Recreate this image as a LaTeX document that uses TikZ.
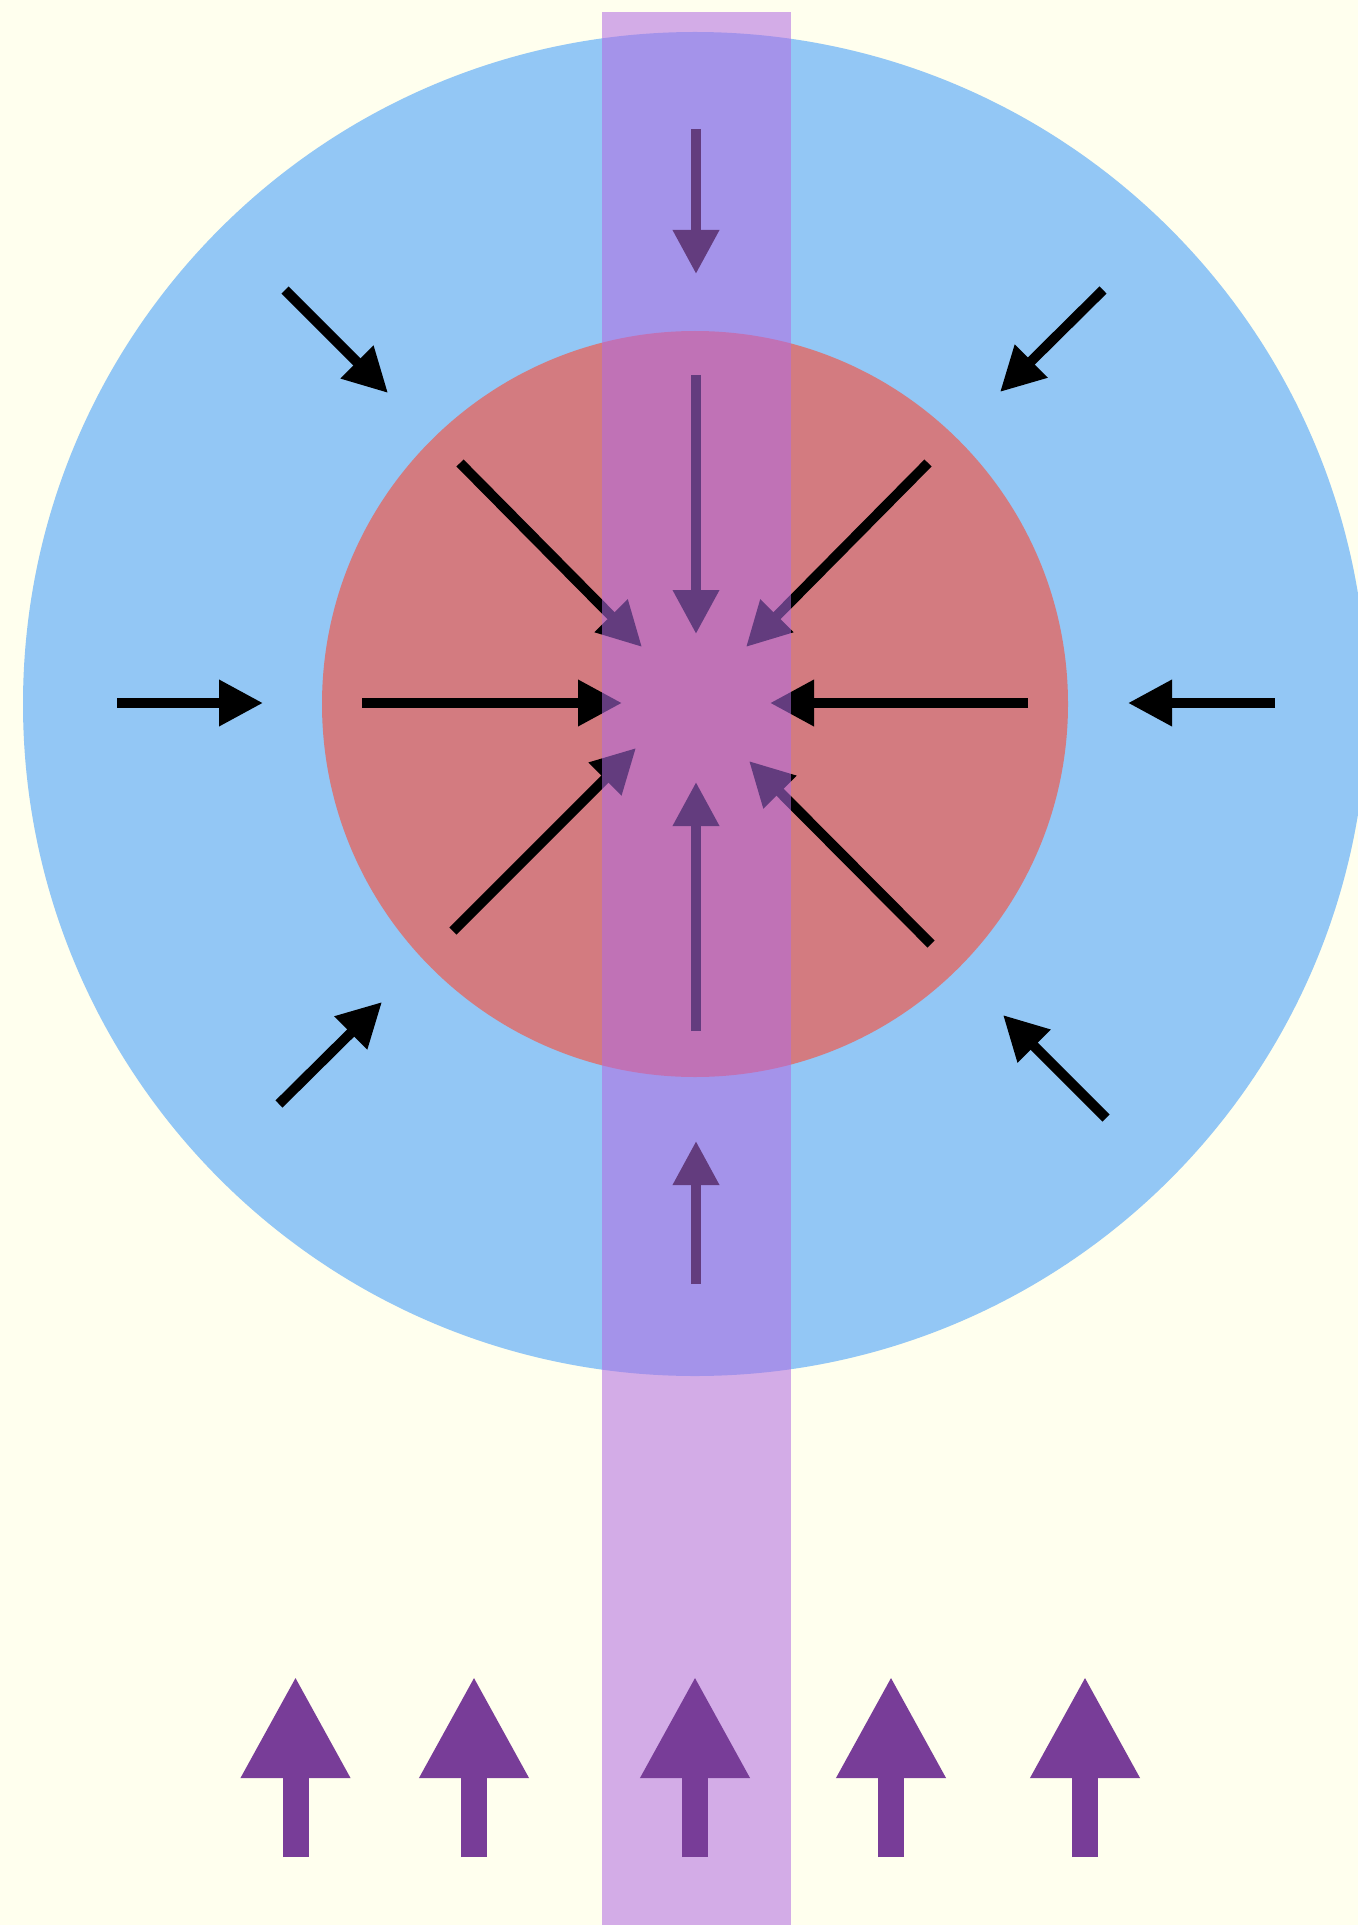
\documentclass[tikz,border=0pt]{standalone}
\usepackage{tikz}
\usetikzlibrary{arrows.meta}
\definecolor{bgcream}{RGB}{255,255,238}
\definecolor{ringblue}{RGB}{147,199,245}
\definecolor{corered}{RGB}{211,123,128}
\definecolor{bandpurple}{RGB}{178,108,226}
\definecolor{liftpurple}{RGB}{120,61,152}

\begin{document}
\begin{tikzpicture}[
    x=0.5pt, y=-0.5pt,
    push/.style={-{Triangle[length=22pt, width=22pt]}, line width=5pt, black},
    lift/.style={-{Triangle[length=51pt, width=51pt]}, line width=13pt, liftpurple},
    band/.style={fill=bandpurple, fill opacity=0.56}
]

% Page and background
\clip (0,0) rectangle (1358,1925);
\fill[bgcream] (0,0) rectangle (1358,1925);

% Outer ring and core
\coordinate (centre) at (695,704);
\fill[ringblue] (centre) circle[radius=336pt];
\fill[corered] (centre) circle[radius=186.5pt];

% Outer arrows
\draw[push] (696,129) -- (696,274);
\draw[push] (117,703) -- (263,703);
\draw[push] (1275,703) -- (1128,703);
\draw[push] (696,1284) -- (696,1141);
\draw[push] (285,290) -- (388,393);
\draw[push] (1103,290) -- (1000,392);
\draw[push] (279,1104) -- (382,1002);
\draw[push] (1106,1118) -- (1003,1015);

% Inner arrows
\draw[push] (696,375) -- (696,634);
\draw[push] (362,703) -- (622,703);
\draw[push] (1028,703) -- (770,703);
\draw[push] (696,1031) -- (696,782);
\draw[push] (460,463) -- (642,647);
\draw[push] (928,463) -- (746,647);
\draw[push] (453,931) -- (636,748);
\draw[push] (931,944) -- (749,761);

% Vertical band over everything
\fill[band] (602,12) rectangle (791,1925);

% Arrows along the bottom
\draw[lift] (295.5,1857) -- (295.5,1676);
\draw[lift] (474,1857) -- (474,1676);
\draw[lift] (695,1857) -- (695,1676);
\draw[lift] (891,1857) -- (891,1676);
\draw[lift] (1085,1857) -- (1085,1676);

\end{tikzpicture}
\end{document}
